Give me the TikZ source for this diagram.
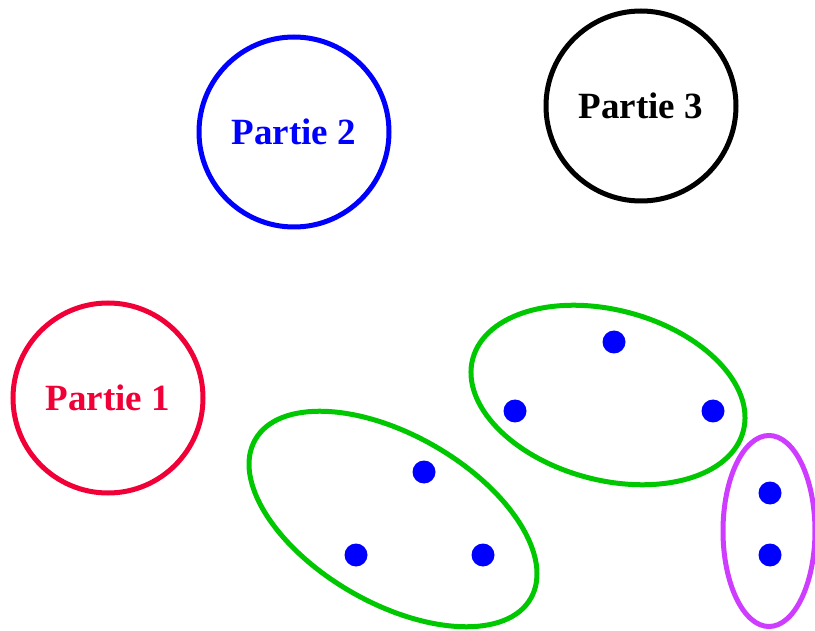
\documentclass[tikz,border=0pt]{standalone}
\usepackage{fontspec}
\setmainfont{Liberation Serif}
\usetikzlibrary{shapes.geometric}
\definecolor{pred}{RGB}{240,0,55}
\definecolor{pblue}{RGB}{0,0,255}
\definecolor{pgreen}{RGB}{0,200,0}
\definecolor{ppurple}{RGB}{205,60,255}
\tikzset{
  part/.style={circle, draw, line width=5pt, minimum size=190pt, inner sep=0pt, font=\fontsize{37}{42}\selectfont\bfseries},
  grp/.style={ellipse, draw, line width=5pt, inner sep=0pt},
  dot/.style={circle, fill=pblue, minimum size=23pt, inner sep=0pt},
}
\begin{document}
\begin{tikzpicture}[x=1pt,y=-1pt]
\useasboundingbox (0,0) rectangle (815,631);
\node[part, pred, text=pred] (p1) at (108,398) {Partie 1};
\node[part, pblue, text=pblue] (p2) at (294,132) {Partie 2};
\node[part, black] (p3) at (641,106) {Partie 3};
\node[grp, pgreen, minimum width=280pt, minimum height=170pt, rotate=-15] (g1) at (608,395) {};
\node[grp, pgreen, minimum width=318pt, minimum height=168pt, rotate=-30] (g2) at (393,519) {};
\node[grp, ppurple, minimum width=92pt, minimum height=191pt] (g3) at (769,531) {};
\node[dot] (d1) at (614,342) {};
\node[dot] (d2) at (515,411) {};
\node[dot] (d3) at (713,411) {};
\node[dot] (d4) at (424,472) {};
\node[dot] (d5) at (356,555) {};
\node[dot] (d6) at (483,555) {};
\node[dot] (d7) at (770,493) {};
\node[dot] (d8) at (770,555) {};
\end{tikzpicture}
\end{document}
